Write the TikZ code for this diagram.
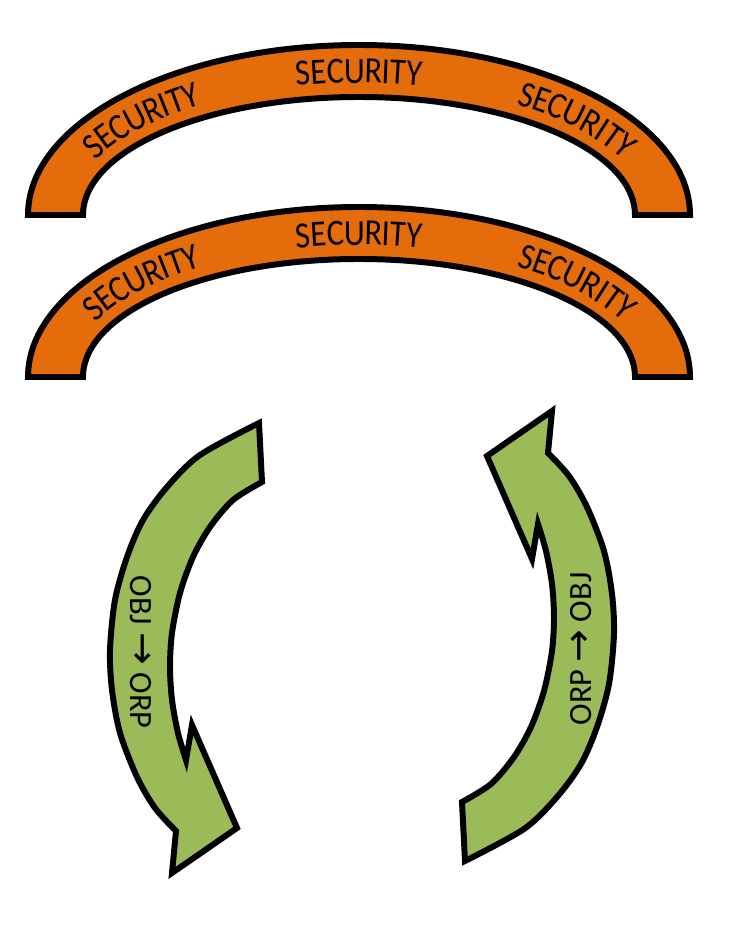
\documentclass[tikz,border=0pt]{standalone}
\usepackage{fontspec}
\setmainfont{Carlito}
\newfontfamily\secfont{Carlito}[FakeStretch=0.88]
\newfontfamily\arrowfont{DejaVu Sans}[Scale=1.2]
\usetikzlibrary{decorations.text}
\definecolor{secorange}{RGB}{228,108,10}
\definecolor{arrowgreen}{RGB}{155,187,89}

\begin{document}
\begin{tikzpicture}[
    x=0.02cm, y=0.02cm,
    band/.style={draw=black, fill=secorange, line width=3.4pt},
    bendarrow/.style={draw=black, fill=arrowgreen, line width=3.4pt, line join=miter},
    word/.style={decorate, decoration={text along path, text align=center, raise=-6.8pt,
        text={|\secfont\fontsize{21}{22}\selectfont|SECURITY}}},
    turnlabel/.style={font=\fontsize{18.5}{20}\selectfont, inner sep=0pt},
    curvedarrow/.pic={
        \path[bendarrow] (-103,219)
            -- plot[smooth] coordinates {(-103,219) (-162,187) (-195,155) (-219,122) (-235,85)
               (-247,42) (-252,-8) (-250,-48) (-242,-91) (-225,-135) (-207,-166) (-186,-189)}
            -- (-190,-231) -- (-125,-186) -- (-170,-83) -- (-176,-118)
            -- plot[smooth] coordinates {(-176,-118) (-184,-91) (-190,-58) (-192,-25) (-190,9)
               (-182,49) (-169,85) (-152,115) (-129,142) (-100,160)}
            -- cycle;
    }
]
\useasboundingbox (0,0) rectangle (728,943);

% security bands
\foreach \cy in {728,566} {
    \path[band] (28,\cy) arc[start angle=180, end angle=0, x radius=331, y radius=170]
        -- (635,\cy) arc[start angle=0, end angle=180, x radius=276, y radius=118] -- cycle;
    \foreach \a in {165,115,65}
        \path[word] ({359+303*cos(\a)},{\cy+144*sin(\a)})
            arc[start angle=\a, delta angle=-50, x radius=303, y radius=144];
}

% cycle arrows
\pic at (362,301) {curvedarrow};
\pic[rotate=180] at (362,301) {curvedarrow};

\node (objorp) [turnlabel, rotate=-90] at (141,291) {OBJ {\arrowfont →} ORP};
\node (orpobj) [turnlabel, rotate=90] at (581,294) {ORP {\arrowfont →} OBJ};
\end{tikzpicture}
\end{document}
